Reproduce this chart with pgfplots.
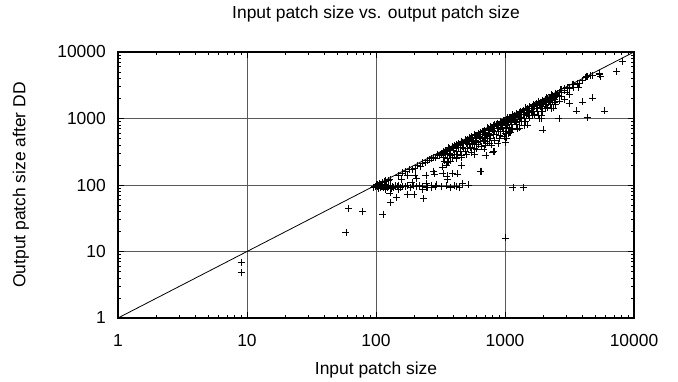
\documentclass[border=0pt]{standalone}
\usepackage{fontspec}
\setmainfont{Liberation Sans}
\usepackage{pgfplots}
\usepackage{pgfplotstable}
\pgfplotsset{compat=1.18}

\pgfplotstableread{
x y
9.0 6.95
9.0 4.9
58.5 19.6
61 44
79 40.6
113 36.6
1000 16
1153 93
1380 93
128 76
129 55
143 66
174 73
197 73
230 87
234 63
247 93
267 93
296 100
407 97
440 93
465 107
518 100
174 141
200 141
207 127
190 110
158 123
280 162
325 187
330 150
285 147
244 141
247 107
360 123
425 147
458 199
640 162
580 292
685 348
805 315
790 400
880 425
1000 440
1030 510
1060 600
1300 720
1500 800
355 137
390 150
355 220
1970 675
2360 1440
2620 1000
3140 1700
3560 1300
4000 1780
4790 2040
4330 1050
5860 1300
7300 5150
8100 7300
3700 2900
3800 3400
3360 2900
3300 3300
4300 4350
4560 4500
5400 4650
5500 4350
4200 4100
2670 2700
2900 2800
3050 2900
2620 2240
2370 2040
1920 1120
1920 1000
1830 1000
820 320
710 280
650 162
690 470
720 560
95 93
98 95
100 97
102 94
104 96
106 98
108 93
110 95
112 97
114 92
116 96
118 94
120 99
122 92
125 96
128 93
130 98
133 95
136 93
140 97
145 94
150 99
155 93
160 96
168 94
175 98
185 92
195 97
205 94
215 99
230 96
250 93
270 98
290 95
320 94
350 97
380 93
420 96
100 100
103 102
107 105
111 108
115 112
119 115
124 118
128 121
105 88
118 86
132 89
150 85
150 140
160 152
170 158
180 170
190 172
200 180
210 195
220 190
230 215
240 220
250 235
260 238
270 250
280 262
290 255
300 285
310 280
320 300
330 305
331 324
331 258
339 312
339 231
347 333
347 288
355 316
355 256
363 363
363 225
372 350
372 298
380 331
380 281
389 377
389 257
398 362
398 338
407 387
407 285
417 409
417 325
427 393
427 290
437 420
437 363
447 398
447 322
457 457
457 283
468 440
468 374
479 417
479 354
490 475
490 323
501 456
501 426
513 487
513 359
525 515
525 410
537 494
537 365
550 528
550 457
562 500
562 405
575 575
575 357
589 554
589 471
603 525
603 446
617 598
617 407
631 574
631 536
646 614
646 452
661 648
661 516
676 622
676 460
692 664
692 574
708 630
708 510
724 724
724 449
741 697
741 593
759 660
759 562
776 753
776 512
794 723
794 675
813 772
813 569
832 815
832 649
851 783
851 579
871 836
871 723
891 793
891 642
912 912
912 565
933 877
933 746
955 831
955 707
977 948
977 645
1000 910
1000 850
1023 972
1023 716
1047 1026
1047 817
1072 986
1072 729
1096 1052
1096 910
1122 999
1122 808
1148 1148
1148 712
1175 1105
1175 940
1202 1046
1202 889
1230 1193
1230 812
1259 1146
1259 1070
1288 1224
1288 902
1318 1292
1318 1028
1349 1241
1349 917
1380 1325
1380 1145
1413 1258
1413 1017
1445 1445
1445 896
1479 1390
1479 1183
1514 1317
1514 1120
1549 1503
1549 1022
1585 1442
1585 1347
1622 1541
1622 1135
1660 1627
1660 1295
1698 1562
1698 1155
1738 1668
1738 1443
1778 1582
1778 1280
1820 1820
1820 1128
1862 1750
1862 1490
1905 1657
1905 1410
1950 1892
1950 1287
1995 1815
1995 1696
2042 1940
2042 1429
2089 2047
2089 1629
2138 1967
2138 1454
2188 2100
2188 1816
2239 1993
2239 1612
2291 2291
2291 1420
2344 2203
2344 1875
2399 2087
2399 1775
2455 2381
2455 1620
2512 2286
2512 2135
2630 2499
2630 1841
2754 2699
2754 2148
2884 2653
2884 1961
3020 2899
3020 2507
3162 2814
3162 2277
3388 3286
3631 3377
3981 3782
4365 4278
4786 4403
5370 4726
520 470
560 430
600 560
640 500
690 610
730 560
780 700
820 640
870 780
920 700
960 880
1010 800
1060 960
1110 880
1160 1050
1210 960
1270 1150
1330 1060
1400 1250
1460 1150
1530 1400
1600 1250
1680 1500
1760 1400
1850 1650
1940 1550
2050 1850
2150 1750
2270 2050
2400 1950
1000 600
1030 650
1080 620
1120 700
350 200
380 230
420 250
460 260
500 290
550 310
600 350
650 380
700 400
760 430
830 470
900 500
980 540
1100 620
1250 700
1400 780
}\pts

\begin{document}
\begin{tikzpicture}
\path[use as bounding box] (-118bp,-64bp) rectangle (560bp,318bp);
\begin{axis}[
  at={(0,0)}, anchor=south west,
  scale only axis, width=516bp, height=266bp,
  xmode=log, ymode=log,
  xmin=1, xmax=10000, ymin=1, ymax=10000,
  xtick={1,10,100,1000,10000}, xticklabels={1,10,100,1000,10000},
  ytick={1,10,100,1000,10000}, yticklabels={1,10,100,1000,10000},
  minor xtick={2,3,4,5,6,7,8,9,20,30,40,50,60,70,80,90,200,300,400,500,600,700,800,900,2000,3000,4000,5000,6000,7000,8000,9000},
  minor ytick={2,3,4,5,6,7,8,9,20,30,40,50,60,70,80,90,200,300,400,500,600,700,800,900,2000,3000,4000,5000,6000,7000,8000,9000},
  minor grid style={draw=none},
  /pgf/number format/assume math mode=true,
  font=\fontsize{17.5}{21}\selectfont,
  grid=major,
  major grid style={black!65, line width=0.8bp},
  tick align=inside,
  major tick length=6bp, minor tick length=3bp,
  every tick/.style={black, line width=0.7bp},
  axis line style={black, line width=1.1bp},
  xticklabel style={anchor=base, yshift=-28bp},
  yticklabel style={anchor=east, inner sep=0pt, xshift=-12bp},
  title={Input patch size vs. output patch size},
  title style={at={(axis description cs:0.5,1.105)}, anchor=base},
  xlabel={Input patch size},
  xlabel style={at={(axis description cs:0.5,-0.214)}, anchor=base},
  ylabel={Output patch size after DD},
  ylabel style={at={(axis description cs:-0.188,0.5)}, anchor=center, rotate=0},
]
\addplot[black, line width=0.8bp] coordinates {(1,1) (10000,10000)};
\addplot[only marks, mark=+, mark size=3.5bp, mark options={line width=0.6bp, black}] table[x=x,y=y] {\pts};
\end{axis}
\end{tikzpicture}
\end{document}
